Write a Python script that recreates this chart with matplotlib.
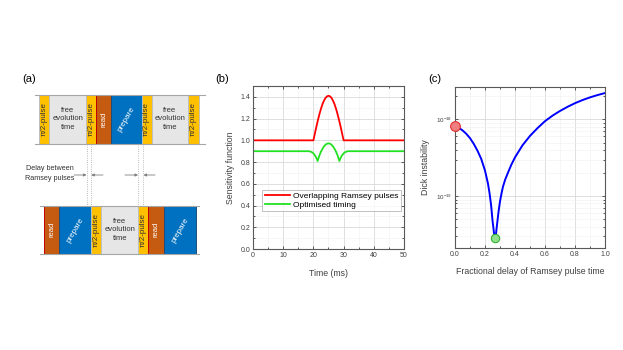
import numpy as np
import matplotlib
matplotlib.use("Agg")
import matplotlib.pyplot as plt
from matplotlib.patches import Rectangle
from matplotlib.ticker import MultipleLocator, FixedLocator, NullFormatter

plt.rcParams['font.family'] = ['Liberation Sans', 'DejaVu Sans']

# ---- panel (a): pulse sequence blocks (label, width in px)
top_blocks = ["pi", "free", "pi", "read", "prepare", "pi", "free", "pi"]
top_widths = [10, 36.7, 10, 15, 30.5, 10, 36.7, 10.5]
bottom_blocks = ["read", "prepare", "pi", "free", "pi", "read", "prepare"]
bottom_widths = [15, 31.7, 10, 37.3, 10, 15.7, 32]

# ---- panel (b): sensitivity functions
red_t = [0, 20, 20.5, 21, 21.5, 22, 22.5, 23, 23.5, 24, 24.5, 25,
         25.5, 26, 26.5, 27, 27.5, 28, 28.5, 29, 29.5, 30, 50]
red_s = [1.0, 1.0, 1.064, 1.127, 1.186, 1.241, 1.29, 1.332, 1.365, 1.39,
         1.405, 1.41, 1.405, 1.39, 1.365, 1.332, 1.29, 1.241, 1.186, 1.127,
         1.064, 1.0, 1.0]
green_t = [0, 18.5, 19, 19.5, 20, 20.5, 21, 21.4, 22, 22.5, 23, 23.5, 24,
           24.5, 25, 25.5, 26, 26.5, 27, 27.5, 28, 28.6, 29, 29.5, 30, 30.5,
           31, 31.5, 50]
green_s = [0.9, 0.9, 0.897, 0.891, 0.88, 0.862, 0.838, 0.81, 0.862, 0.895,
           0.922, 0.944, 0.96, 0.969, 0.972, 0.969, 0.96, 0.944, 0.922, 0.895,
           0.862, 0.81, 0.838, 0.862, 0.88, 0.891, 0.897, 0.9, 0.9]

# ---- panel (c): Dick instability (x1e-19) vs fractional delay
delay = [0.0, 0.025, 0.05, 0.075, 0.1, 0.125, 0.15, 0.175, 0.2, 0.22,
         0.23, 0.24, 0.245, 0.25, 0.255, 0.26, 0.265, 0.268, 0.272, 0.276,
         0.28, 0.29, 0.3, 0.31, 0.32, 0.335, 0.35, 0.375, 0.4, 0.45, 0.5,
         0.55, 0.6, 0.65, 0.7, 0.75, 0.8, 0.85, 0.9, 0.95, 1.0]
dick_e19 = [8.3, 7.8, 7.2, 6.5, 5.7, 4.8, 3.9, 3.05, 2.15, 1.45,
            1.1, 0.78, 0.62, 0.48, 0.4, 0.33, 0.29, 0.28, 0.3, 0.36,
            0.42, 0.62, 0.85, 1.08, 1.33, 1.65, 1.95, 2.55, 3.2, 4.6, 6.1,
            7.7, 9.5, 11.2, 12.9, 14.6, 16.3, 17.9, 19.4, 20.8, 22.1]
dick = [v * 1e-19 for v in dick_e19]
best_delay = 0.268

fig = plt.figure(figsize=(6.23, 3.5), dpi=100)

# diagram axes in pixel coordinates
ax0 = fig.add_axes([0, 0, 1, 1])
ax0.set_xlim(0, 623)
ax0.set_ylim(350, 0)
ax0.axis('off')

styles = {
    "pi": ('#FFC000', '#BFBFBF', 'π/2-pulse', 90, '#333333', 5.8),
    "free": ('#E7E6E6', '#BFBFBF', 'free\nevolution\ntime', 0, '#333333', 5.5),
    "read": ('#C55A11', '#C00000', 'read', 90, 'white', 5.5),
    "prepare": ('#0070C0', '#1F4E79', 'prepare', 60, 'white', 5.8),
}

def draw_row(blocks, widths, x0, y0, y1, line_x):
    ax0.plot(line_x, [y0, y0], color='#A6A6A6', lw=0.8)
    ax0.plot(line_x, [y1, y1], color='#A6A6A6', lw=0.8)
    x = x0
    for b, w in zip(blocks, widths):
        fc, ec, txt, rot, tc, fs = styles[b]
        ax0.add_patch(Rectangle((x, y0), w, y1 - y0, facecolor=fc,
                                edgecolor=ec, lw=0.7))
        ax0.text(x + w / 2, (y0 + y1) / 2, txt, rotation=rot, ha='center',
                 va='center', color=tc, fontsize=fs, linespacing=1.3)
        x += w

draw_row(top_blocks, top_widths, 39.3, 94.5, 143.5, [35, 205])
draw_row(bottom_blocks, bottom_widths, 44.3, 205.5, 254, [40, 199])

for xv in [86.7, 91, 138.3, 143.3]:
    ax0.plot([xv, xv], [144, 205], color='#A6A6A6', lw=0.6, ls=':')

ax0.text(74, 173, "Delay between\nRamsey pulses", ha='right', va='center',
         fontsize=5.2, color='#333333', linespacing=1.6)
for xs, xe in [(74, 86.5), (103, 91.2), (125, 138), (155, 143.5)]:
    ax0.annotate("", xy=(xe, 175), xytext=(xs, 175),
                 arrowprops=dict(arrowstyle='-|>', color='#7F7F7F', lw=0.6,
                                 mutation_scale=4, shrinkA=0, shrinkB=0))

fig.text(22 / 623, 1 - 79 / 350, "(a)", fontsize=8, va='center')
fig.text(215 / 623, 1 - 79 / 350, "(b)", fontsize=8, va='center')
fig.text(428 / 623, 1 - 79 / 350, "(c)", fontsize=8, va='center')


def style_axes(ax):
    ax.grid(True, which='major', color='#D9D9D9', lw=0.6)
    ax.grid(True, which='minor', color='#F0F0F0', lw=0.4)
    ax.set_axisbelow(True)
    ax.tick_params(which='both', direction='in', top=True, right=True,
                   labelsize=5, colors='#404040', width=0.6, pad=2)
    ax.tick_params(which='major', length=2.5)
    ax.tick_params(which='minor', length=1.5)
    for s in ax.spines.values():
        s.set_color('#595959')
        s.set_linewidth(0.8)

# ---- panel (b)
ax1 = fig.add_axes([253 / 623, 1 - 249 / 350, 151 / 623, 163 / 350])
ax1.plot(red_t, red_s, color='#FF0000', lw=1.3, label='Overlapping Ramsey pulses')
ax1.plot(green_t, green_s, color='#22E022', lw=1.3, label='Optimised timing')
ax1.set_xlim(0, 50)
ax1.set_ylim(0, 1.5)
ax1.xaxis.set_major_locator(MultipleLocator(10))
ax1.xaxis.set_minor_locator(MultipleLocator(5))
ax1.yaxis.set_major_locator(MultipleLocator(0.2))
ax1.yaxis.set_minor_locator(MultipleLocator(0.1))
ax1.yaxis.set_major_formatter(plt.FormatStrFormatter('%.1f'))
style_axes(ax1)
ax1.set_xlabel("Time (ms)", fontsize=6.3, color='#404040', labelpad=7)
ax1.set_ylabel("Sensitivity function", fontsize=6.3, color='#404040', labelpad=4)
leg = ax1.legend(loc='upper left', bbox_to_anchor=(0.06, 0.362), fontsize=6,
                 frameon=True, fancybox=False, edgecolor='#A6A6A6',
                 handlelength=3, borderpad=0.3, labelspacing=0.1,
                 handletextpad=0.4, borderaxespad=0)
leg.get_frame().set_linewidth(0.6)

# ---- panel (c)
ax2 = fig.add_axes([455 / 623, 1 - 248 / 350, 150 / 623, 161 / 350])
ax2.plot(delay, dick, color='#0000FF', lw=1.4)
ax2.plot([delay[0]], [dick[0]], 'o', ms=7, mfc='#F08080', mec='#E03030',
         mew=0.8, clip_on=False, zorder=5)
ax2.plot([best_delay], [min(dick)], 'o', ms=6, mfc='#90E090', mec='#30B030',
         mew=0.8, clip_on=False, zorder=5)
ax2.set_yscale('log')
ax2.set_xlim(0, 1)
ax2.set_ylim(2.1e-20, 2.65e-18)
ax2.xaxis.set_major_locator(MultipleLocator(0.2))
ax2.xaxis.set_minor_locator(MultipleLocator(0.1))
ax2.xaxis.set_major_formatter(plt.FormatStrFormatter('%.1f'))
ax2.yaxis.set_major_locator(FixedLocator([1e-19, 1e-18]))
minor_y = [m * 1e-20 for m in range(3, 10)] + [m * 1e-19 for m in range(2, 10)] + [2e-18]
ax2.yaxis.set_minor_locator(FixedLocator(minor_y))
ax2.yaxis.set_minor_formatter(NullFormatter())
style_axes(ax2)
ax2.tick_params(axis='y', labelsize=4.5)
ax2.set_xlabel("Fractional delay of Ramsey pulse time", fontsize=6.3,
               color='#404040', labelpad=7)
ax2.set_ylabel("Dick instability", fontsize=6.3, color='#404040', labelpad=4)

fig.savefig("out.png", dpi=100)
